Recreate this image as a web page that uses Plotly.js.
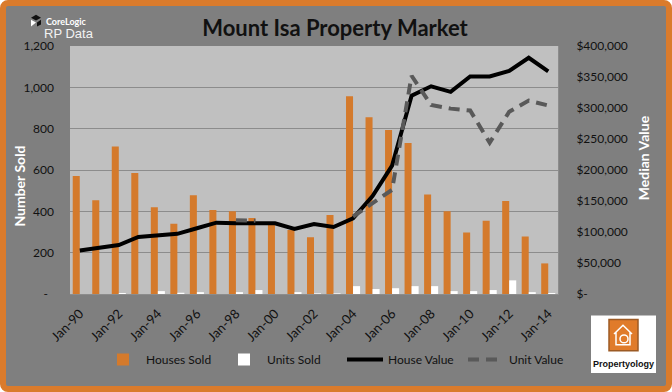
<!DOCTYPE html>
<html>
<head>
<meta charset="utf-8">
<script src="https://cdn.plot.ly/plotly-3.0.1.min.js"></script>
<style>
  html, body { margin: 0; padding: 0; background: #ffffff; }
  #frame { width: 672px; height: 392px; box-sizing: border-box; border: 6px solid #da7b2c; border-radius: 8px; background: #7f7f7f; overflow: hidden; }
  #chart { width: 660px; height: 380px; }
</style>
</head>
<body>
<div id="frame"><div id="chart"></div></div>
<script>
// ---- data ----
const categories = ["Jan-90","Jan-91","Jan-92","Jan-93","Jan-94","Jan-95","Jan-96","Jan-97","Jan-98","Jan-99",
                    "Jan-00","Jan-01","Jan-02","Jan-03","Jan-04","Jan-05","Jan-06","Jan-07","Jan-08","Jan-09",
                    "Jan-10","Jan-11","Jan-12","Jan-13","Jan-14"];
const housesSold = [571, 454, 714, 586, 420, 340, 478, 407, 401, 368, 335, 310, 275, 382, 957, 855, 794, 731, 481, 401, 297, 354, 450, 278, 148];
const unitsSold  = [0, 0, 5, 0, 14, 6, 9, 0, 9, 19, 0, 9, 3, 3, 38, 24, 28, 38, 38, 14, 14, 19, 66, 9, 5];
const houseValue = [70000, 74000, 79000, 92000, 94000, 97000, 106000, 115000, 114000, 114000, 114000, 105000, 113000,
                    108000, 122000, 158000, 207000, 320000, 335000, 326000, 351000, 351000, 360000, 381000, 359000];
const unitValue  = [null, null, null, null, null, null, null, null, 119000, 118000, null, null, null, null,
                    125000, 147000, 168000, 352000, 305000, 299000, 296000, 244000, 294000, 312000, 304000];
const xTickLabels = ["Jan-90","Jan-92","Jan-94","Jan-96","Jan-98","Jan-00","Jan-02","Jan-04","Jan-06","Jan-08","Jan-10","Jan-12","Jan-14"];
const leftTickVals = [0, 200, 400, 600, 800, 1000, 1200];
const leftTickText = ["-\u00a0\u00a0", "200", "400", "600", "800", "1,000", "1,200"];
const rightTickVals = [0, 50000, 100000, 150000, 200000, 250000, 300000, 350000, 400000];
const rightTickText = ["$-", "$50,000", "$100,000", "$150,000", "$200,000", "$250,000", "$300,000", "$350,000", "$400,000"];

// ---- helpers: page pixel -> paper coords (plot area page x 70..558, y 46..300) ----
const PX0 = 70, PX1 = 558, PY0 = 46, PY1 = 300;
const px = v => (v - PX0) / (PX1 - PX0);
const py = v => (PY1 - v) / (PY1 - PY0);

const FONT = "Lato, 'Open Sans', sans-serif";

const traces = [
  { type: "bar", name: "Houses Sold", x: categories, y: housesSold, marker: { color: "#d47a2c" }, yaxis: "y" },
  { type: "bar", name: "Units Sold", x: categories, y: unitsSold, marker: { color: "#ffffff" }, yaxis: "y" },
  { type: "scatter", mode: "lines", name: "House Value", x: categories, y: houseValue, yaxis: "y2",
    line: { color: "#000000", width: 4 } },
  { type: "scatter", mode: "lines", name: "Unit Value", x: categories, y: unitValue, yaxis: "y2",
    connectgaps: false, line: { color: "#595959", width: 4, dash: "11px,7px" } }
];

const layout = {
  width: 660, height: 380,
  margin: { l: 64, r: 108, t: 40, b: 86, pad: 0 },
  paper_bgcolor: "rgba(0,0,0,0)",
  plot_bgcolor: "#c0c0c0",
  barmode: "group", bargap: 0.28, bargroupgap: 0,
  font: { family: FONT, size: 12, color: "#111111" },
  title: { text: "<b>Mount Isa Property Market</b>", font: { family: FONT, size: 22, color: "#111111" },
           x: 0.4985, xref: "container", xanchor: "center", y: 0.942, yref: "container", yanchor: "middle" },
  xaxis: { type: "category", tickmode: "array", tickvals: xTickLabels, ticktext: xTickLabels, tickangle: -45,
           tickfont: { family: FONT, size: 13, color: "#111111" }, showgrid: false, zeroline: false,
           showline: true, linecolor: "#8c8c8c", linewidth: 1, ticks: "", ticklabelstandoff: 6, automargin: false },
  yaxis: { range: [0, 1200], tickmode: "array", tickvals: leftTickVals, ticktext: leftTickText,
           gridcolor: "#8c8c8c", gridwidth: 1, zeroline: false, showline: false, ticks: "",
           ticklabelstandoff: 15, tickfont: { family: FONT, size: 12, color: "#111111" }, automargin: false, fixedrange: true },
  yaxis2: { range: [0, 400000], overlaying: "y", side: "right", tickmode: "array", tickvals: rightTickVals, ticktext: rightTickText,
            showgrid: false, zeroline: false, showline: true, linecolor: "#8c8c8c", ticks: "",
            ticklabelstandoff: 15, tickfont: { family: FONT, size: 12, color: "#111111" }, automargin: false },
  showlegend: true,
  legend: { orientation: "h", x: px(100), xanchor: "left", y: py(367), yanchor: "middle",
            bgcolor: "rgba(0,0,0,0)", font: { family: FONT, size: 12, color: "#111111" }, itemwidth: 36,
            entrywidth: 70, entrywidthmode: "pixels", traceorder: "normal" },
  annotations: [
    { text: "<b>Number Sold</b>", xref: "paper", yref: "paper", x: px(20), y: py(190), textangle: -90,
      showarrow: false, font: { family: FONT, size: 14, color: "#ffffff" }, xanchor: "center", yanchor: "middle" },
    { text: "<b>Median Value</b>", xref: "paper", yref: "paper", x: px(643), y: py(161), textangle: -90,
      showarrow: false, font: { family: FONT, size: 14, color: "#ffffff" }, xanchor: "center", yanchor: "middle" },
    { text: "<b>CoreLogic</b>", xref: "paper", yref: "paper", x: px(44), y: py(21), xanchor: "left", yanchor: "middle",
      showarrow: false, font: { family: FONT, size: 9, color: "#ffffff" } },
    { text: "RP Data", xref: "paper", yref: "paper", x: px(42), y: py(33), xanchor: "left", yanchor: "middle",
      showarrow: false, font: { family: "'Liberation Sans', Arial, sans-serif", size: 13, color: "#f2f2f2" } },
    { text: "<b>Propertyology</b>", xref: "paper", yref: "paper", x: px(623), y: py(372), xanchor: "center", yanchor: "middle",
      showarrow: false, font: { family: "'Liberation Sans Narrow', 'Liberation Sans', sans-serif", size: 9, color: "#111111" } }
  ],
  shapes: [
    // CoreLogic mark
    { type: "path", xref: "paper", yref: "paper", layer: "above",
      path: `M ${px(31)} ${py(17)} L ${px(36)} ${py(14)} L ${px(41)} ${py(17)} L ${px(36)} ${py(20)} Z`,
      fillcolor: "#111111", line: { width: 0 } },
    { type: "path", xref: "paper", yref: "paper", layer: "above",
      path: `M ${px(31)} ${py(19)} L ${px(36)} ${py(22)} L ${px(31)} ${py(26)} Z`,
      fillcolor: "#ffffff", line: { width: 0 } },
    { type: "path", xref: "paper", yref: "paper", layer: "above",
      path: `M ${px(37)} ${py(22)} L ${px(41)} ${py(19)} L ${px(41)} ${py(24)} L ${px(37)} ${py(26)} Z`,
      fillcolor: "#111111", line: { width: 0 } },
    // Propertyology logo box
    { type: "rect", xref: "paper", yref: "paper", layer: "above",
      x0: px(591), x1: px(656), y0: py(381), y1: py(322), fillcolor: "#ffffff", line: { width: 0 } },
    { type: "rect", xref: "paper", yref: "paper", layer: "above",
      x0: px(609), x1: px(638), y0: py(358), y1: py(326), fillcolor: "#e07b2a", line: { color: "#9c5a24", width: 1.5 } },
    { type: "path", xref: "paper", yref: "paper", layer: "above",
      path: `M ${px(614)} ${py(341)} L ${px(623)} ${py(332)} L ${px(632)} ${py(341)} M ${px(616)} ${py(339)} L ${px(616)} ${py(352)} L ${px(630)} ${py(352)} L ${px(630)} ${py(339)}`,
      line: { color: "#ffffff", width: 1.5 } },
    { type: "circle", xref: "paper", yref: "paper", layer: "above",
      x0: px(620), x1: px(628), y0: py(350), y1: py(342), line: { color: "#ffffff", width: 1.5 } }
  ]
};

Plotly.newPlot("chart", traces, layout, { displayModeBar: false, staticPlot: true });
</script>
</body>
</html>
